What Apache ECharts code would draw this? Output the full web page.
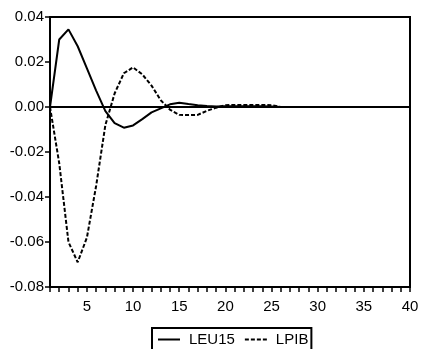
<!DOCTYPE html>
<html>
<head>
<meta charset="utf-8">
<script src="https://cdn.jsdelivr.net/npm/echarts@6/dist/echarts.min.js"></script>
<style>
html,body{margin:0;padding:0;background:#fff;}
#c{width:422px;height:349px;}
</style>
</head>
<body>
<div id="c"></div>
<script>
const periods = [1,2,3,4,5,6,7,8,9,10,11,12,13,14,15,16,17,18,19,20,21,22,23,24,25,26,27,28,29,30,31,32,33,34,35,36,37,38,39,40];
const yTicks = [-0.08,-0.06,-0.04,-0.02,0.00,0.02,0.04];
const leu15 = [0,0.0300,0.0345,0.0270,0.0172,0.0073,-0.0018,-0.0072,-0.0092,-0.0082,-0.0054,-0.0024,-0.0006,0.0012,0.0019,0.0013,0.0008,0.0004,0.0002,0.0003,0.0003,0.0003,0.0003,0.0003,0.0002,0,0,0,0,0,0,0,0,0,0,0,0,0,0,0];
const lpib = [0,-0.0250,-0.0600,-0.0690,-0.0580,-0.0350,-0.0080,0.0060,0.0150,0.0176,0.0145,0.0095,0.0030,-0.0012,-0.0035,-0.0036,-0.0035,-0.0017,-0.0003,0.0008,0.0009,0.0009,0.0009,0.0009,0.0008,0,0,0,0,0,0,0,0,0,0,0,0,0,0,0];
const seriesNames = ['LEU15','LPIB'];

const FONT = '"Liberation Sans", Arial, sans-serif';
const chart = echarts.init(document.getElementById('c'), null, {renderer:'canvas'});
chart.setOption({
  animation:false,
  backgroundColor:'#ffffff',
  grid:{left:50,right:12,top:17,bottom:62,show:true,borderColor:'#000',borderWidth:2,backgroundColor:'transparent'},
  legend:{
    data:seriesNames,
    left:152, top:328,
    orient:'horizontal',
    padding:[4,3,20,5],
    itemWidth:22, itemHeight:14, itemGap:9,
    borderColor:'#000', borderWidth:2,
    itemStyle:{color:'rgba(0,0,0,0)',borderWidth:0,opacity:0},
    textStyle:{fontFamily:FONT,fontSize:15,color:'#000',padding:[0,0,0,4]}
  },
  xAxis:{
    type:'category',
    data:periods,
    boundaryGap:false,
    axisLine:{onZero:false,lineStyle:{color:'#000',width:2}},
    axisTick:{show:true,interval:0,length:5,lineStyle:{color:'#000',width:1.5}},
    axisLabel:{interval:function(i,v){return Number(v)%5===0;},fontFamily:FONT,fontSize:15,color:'#000',margin:12},
    splitLine:{show:false}
  },
  yAxis:{
    type:'value',
    min:yTicks[0], max:yTicks[yTicks.length-1], interval:0.02,
    axisLine:{show:true,onZero:false,lineStyle:{color:'#000',width:2}},
    axisTick:{show:true,length:5,lineStyle:{color:'#000',width:1.5}},
    axisLabel:{formatter:function(v){return v.toFixed(2);},fontFamily:FONT,fontSize:15,color:'#000',margin:6,padding:[5,0,0,0]},
    splitLine:{show:false}
  },
  series:[
    {name:seriesNames[0],type:'line',data:leu15,symbol:'none',lineStyle:{color:'#000',width:2,type:'solid'},itemStyle:{color:'#000'},
     markLine:{silent:true,symbol:'none',label:{show:false},lineStyle:{color:'#000',width:2,type:'solid'},data:[{yAxis:0}]}},
    {name:seriesNames[1],type:'line',data:lpib,symbol:'none',lineStyle:{color:'#000',width:2,type:[4,2]},itemStyle:{color:'#000'}}
  ]
});
</script>
</body>
</html>
